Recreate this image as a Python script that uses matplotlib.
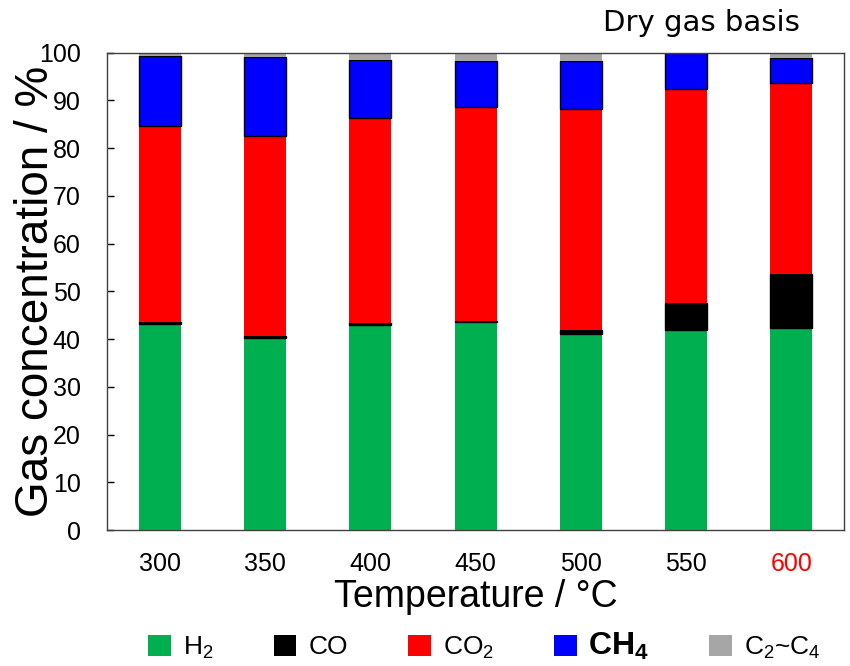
import matplotlib
matplotlib.use("Agg")
import matplotlib.pyplot as plt
import matplotlib.patches as mpatches
import numpy as np

plt.rcParams["font.family"] = ["Liberation Sans", "DejaVu Sans"]
plt.rcParams["mathtext.default"] = "regular"

# Dry-gas composition (vol%) vs. reaction temperature
temps = ["300", "350", "400", "450", "500", "550", "600"]
h2    = [43.1, 40.3, 42.9, 43.6, 41.0, 41.9, 42.3]
co    = [0.4, 0.3, 0.4, 0.2, 0.9, 5.7, 11.3]
co2   = [41.1, 42.0, 43.0, 44.8, 46.2, 44.7, 40.1]
ch4   = [14.7, 16.4, 12.2, 9.7, 10.1, 7.7, 5.1]
c2c4  = [0.7, 1.0, 1.5, 1.7, 1.8, 0.0, 1.2]

species = [
    (h2,   "#00B050", "none",  "H$_2$"),
    (co,   "#000000", "black", "CO"),
    (co2,  "#FF0000", "none",  "CO$_2$"),
    (ch4,  "#0000FF", "black", "CH$_4$"),
    (c2c4, "#A6A6A6", "none",  "C$_2$~C$_4$"),
]

fig = plt.figure(figsize=(8.5, 6.66), dpi=100)
ax = fig.add_axes([0.126, 0.204, 0.867, 0.717])

x = np.arange(len(temps))
bottom = np.zeros(len(temps))
handles = []
for vals, col, ec, lab in species:
    vals = np.array(vals)
    ax.bar(x, vals, width=0.40, bottom=bottom, color=col,
           edgecolor=ec, linewidth=1.0 if ec != "none" else 0)
    bottom += vals
    handles.append(mpatches.Patch(facecolor=col, edgecolor="none", label=lab))

ax.set_xlim(-0.5, 6.5)
ax.set_ylim(0, 100)
ax.set_yticks(np.arange(0, 101, 10))
ax.set_xticks(x)
ax.set_xticklabels(temps)
ax.tick_params(axis="y", direction="in", length=5, width=1, labelsize=18, pad=19)
ax.tick_params(axis="x", length=0, labelsize=18, pad=16)
ax.get_xticklabels()[-1].set_color("#FF0000")
for s in ax.spines.values():
    s.set_color("#404040")
    s.set_linewidth(1.0)

ax.set_ylabel("Gas concentration / %", fontsize=33)
ax.yaxis.set_label_coords(-0.066, 0.5)
ax.set_xlabel("Temperature / °C", fontsize=27, labelpad=2)

fig.text(0.941, 0.966, "Dry gas basis", fontsize=21, ha="right", va="center",
         family=["DejaVu Sans"])

leg = fig.legend(handles=handles, loc="center", bbox_to_anchor=(0.570, 0.030),
                 ncol=5, frameon=False, handlelength=0.87,
                 handleheight=0.87, handletextpad=0.45, columnspacing=2.27,
                 prop={"family": ["Liberation Sans"], "size": 19})
# methane entry is emphasised in bold, slightly larger
leg.get_texts()[3].set_fontweight("bold")
leg.get_texts()[3].set_fontsize(23)

fig.savefig("out.png", dpi=100)
